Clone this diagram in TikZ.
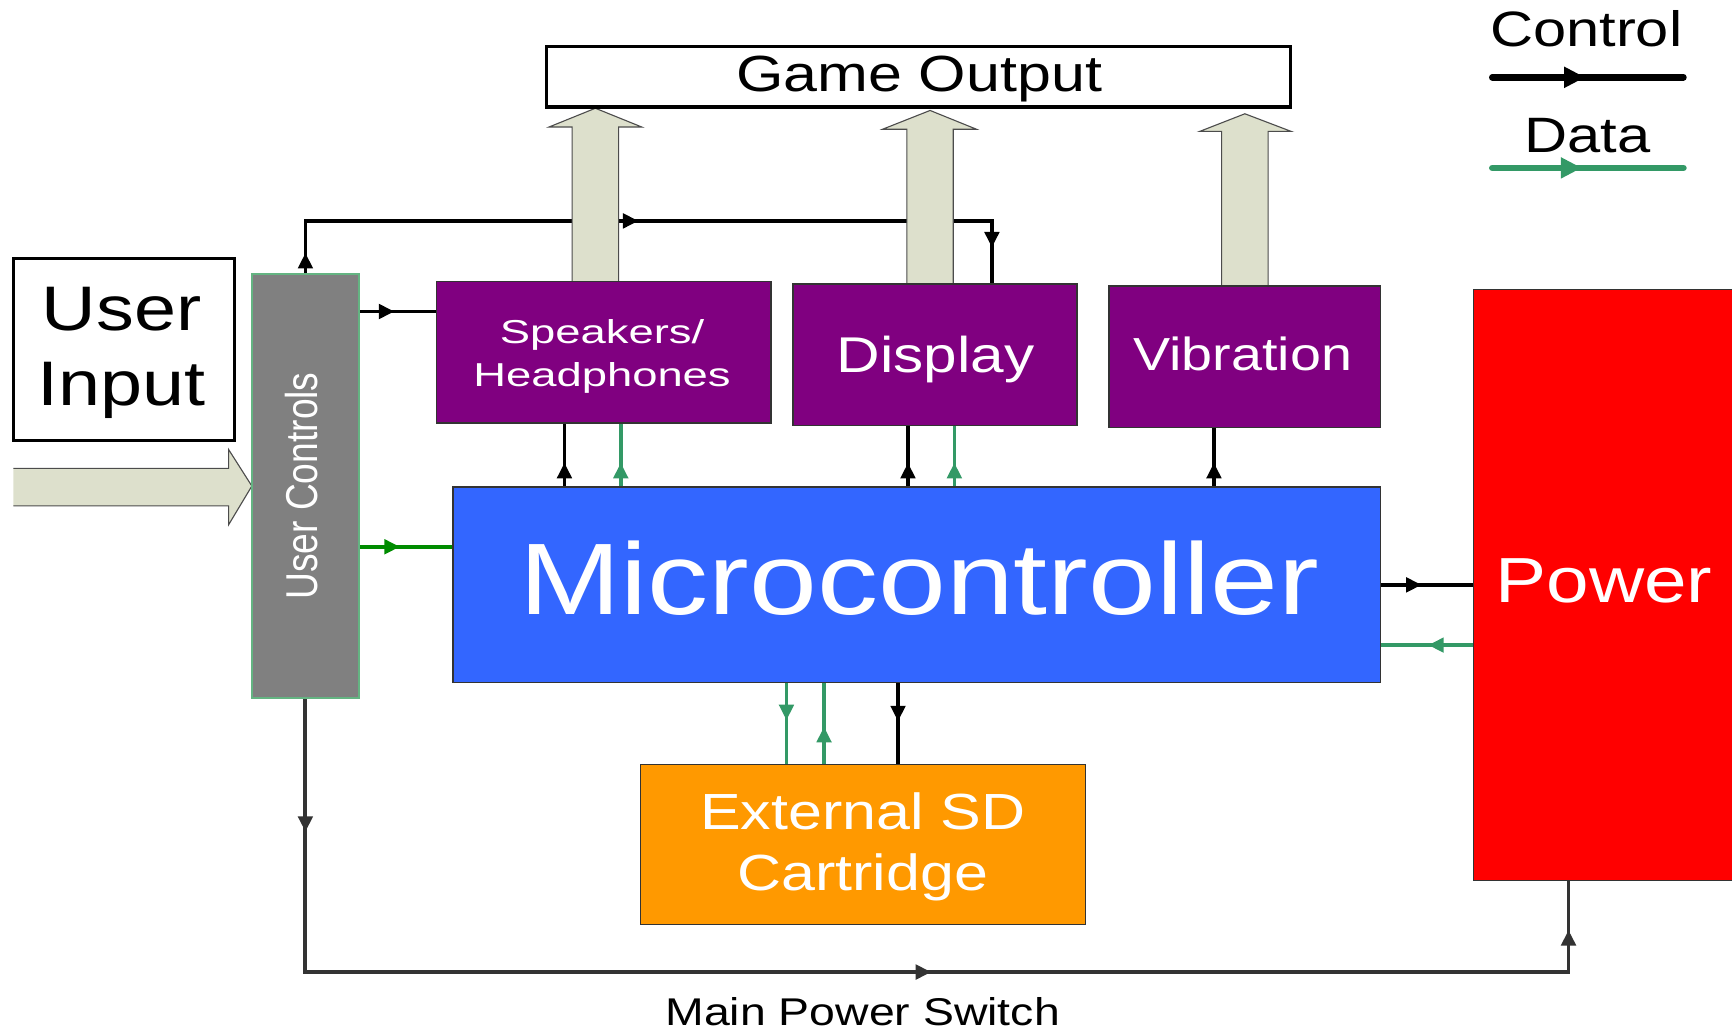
\documentclass[tikz,border=0pt]{standalone}
\usepackage{fontspec}
\setmainfont{Liberation Sans}[FakeStretch=1.2]
\newfontfamily\spkfont{Liberation Sans}[FakeStretch=1.37]
\newfontfamily\ucfont{Liberation Sans}[FakeStretch=0.833]
\usetikzlibrary{arrows.meta,decorations.markings}
\newcommand\fsz[2]{\fontsize{#1}{#2}\selectfont}
\newcommand\tipf{\arrow{Triangle[length=14pt,width=13pt]}}
\newcommand\tipleg{\arrow{Triangle[length=19pt,width=18pt]}}
\definecolor{cpurple}{RGB}{128,0,128}
\definecolor{cblue}{RGB}{51,102,255}
\definecolor{cred}{RGB}{255,0,0}
\definecolor{corange}{RGB}{255,153,0}
\definecolor{cgray}{RGB}{128,128,128}
\definecolor{cdata}{RGB}{51,153,102}
\definecolor{cgreen}{RGB}{0,140,0}
\definecolor{cbeige}{RGB}{221,224,204}
\definecolor{cdark}{RGB}{51,51,51}
\definecolor{ucborder}{RGB}{100,180,130}
\tikzset{
  arr/.style={postaction={decorate},decoration={markings,mark=at position #1 with {\tipf}}},
  legarr/.style={postaction={decorate},decoration={markings,mark=at position #1 with {\tipleg}}},
  arrthree/.style n args={3}{postaction={decorate},decoration={markings,
     mark=at position #1 with {\tipf},mark=at position #2 with {\tipf},mark=at position #3 with {\tipf}}},
  ctrl/.style={line width=3.3pt,draw=black},
  dat/.style={line width=3.3pt,draw=cdata},
  pwrline/.style={line width=3.5pt,draw=cdark},
  legline/.style={line width=6pt,line cap=round},
  colbox/.style={draw=black!80,line width=1.2pt,inner sep=0pt,outer sep=0pt},
  whitebox/.style={draw=black,line width=3pt,fill=white,inner sep=0pt,outer sep=0pt},
  bigarrow/.style={fill=cbeige,draw=black!70,line width=1pt},
  wtext/.style={text=white,anchor=base,inner sep=0pt},
  btext/.style={text=black,anchor=base,inner sep=0pt},
}
\begin{document}
\begin{tikzpicture}[x=1pt,y=-1pt]
\useasboundingbox (0,0) rectangle (1568,934);

% ---- box nodes (empty, named) placed first for anchors; drawn later via fill
\path
  node[minimum width=97pt,minimum height=384pt,inner sep=0pt,outer sep=0pt] (uc) at (276.5,440) {}
  node[minimum width=303pt,minimum height=128pt,inner sep=0pt,outer sep=0pt] (spk) at (546.5,319) {}
  node[minimum width=257pt,minimum height=128pt,inner sep=0pt,outer sep=0pt] (disp) at (846.5,321) {}
  node[minimum width=246pt,minimum height=128pt,inner sep=0pt,outer sep=0pt] (vib) at (1127,323) {}
  node[minimum width=840pt,minimum height=177pt,inner sep=0pt,outer sep=0pt] (mc) at (830,529.5) {}
  node[minimum width=238pt,minimum height=535pt,inner sep=0pt,outer sep=0pt] (pw) at (1453,529.5) {}
  node[minimum width=403pt,minimum height=145pt,inner sep=0pt,outer sep=0pt] (sd) at (781.5,764.5) {}
  node[minimum width=673pt,minimum height=55pt,inner sep=0pt,outer sep=0pt] (go) at (831.5,69.5) {}
  node[minimum width=200pt,minimum height=165pt,inner sep=0pt,outer sep=0pt] (ui) at (112,316.5) {};

% ports
\coordinate (spkin) at ([yshift=37pt]spk.west);
\coordinate (mcin) at ([yshift=34.5pt]mc.west);
\coordinate (pwout) at ([yshift=-54.5pt]pw.west);
\coordinate (spkc) at ([xshift=-35.5pt]spk.south);
\coordinate (spkd) at ([xshift=15.5pt]spk.south);
\coordinate (dispc) at ([xshift=-24.5pt]disp.south);
\coordinate (dispd) at ([xshift=17.5pt]disp.south);
\coordinate (vibc) at ([xshift=-28pt]vib.south);
\coordinate (sdd1) at ([xshift=-69.5pt]sd.north);
\coordinate (sdd2) at ([xshift=-35.5pt]sd.north);
\coordinate (sdc) at ([xshift=31.5pt]sd.north);
\coordinate (dispin) at ([xshift=51.5pt]disp.north);
\coordinate (pwin) at ([xshift=-33pt]pw.south);

% ---- connectors
\draw[ctrl,arrthree={19pt}{349.5pt}{693.5pt}] (uc.north) -- ++(0,-48) -| (dispin);
\draw[ctrl,arr=32pt] (uc.east |- spkin) -- (spkin);
\draw[line width=3.3pt,draw=cgreen,arr=37pt] (uc.east |- mcin) -- (mcin);
\draw[ctrl,arr=22pt] (mc.north -| spkc) -- (spkc);
\draw[dat,arr=22pt] (mc.north -| spkd) -- (spkd);
\draw[ctrl,arr=22pt] (mc.north -| dispc) -- (dispc);
\draw[dat,arr=22pt] (mc.north -| dispd) -- (dispd);
\draw[ctrl,arr=22pt] (mc.north -| vibc) -- (vibc);
\draw[ctrl,arr=37pt] (mc.east) -- (pw.west);
\draw[dat,arr=41pt] (pwout) -- (mc.east |- pwout);
\draw[dat,arr=34pt] (mc.south -| sdd1) -- (sdd1);
\draw[dat,arr=34pt] (sdd2) -- (mc.south -| sdd2);
\draw[ctrl,arr=35pt] (mc.south -| sdc) -- (sdc);
\draw[pwrline,arrthree={121pt}{814.5pt}{1429.5pt}] (uc.south) -- ++(0,248) -| (pwin);

% ---- big output arrows
\filldraw[bigarrow] (518,255) -- (518,115) -- (497,115) -- (539,98) -- (581,115) -- (560,115) -- (560,255);
\filldraw[bigarrow] (821,257) -- (821,117) -- (799,117) -- (842,100) -- (884,117) -- (863,117) -- (863,257);
\filldraw[bigarrow] (1106,259) -- (1106,119) -- (1086,119) -- (1127,103) -- (1169,119) -- (1148,119) -- (1148,259);
% ---- user input arrow
\fill[cbeige] (12,424) -- (207,424) -- (207,407) -- (228,440) -- (207,475) -- (207,458) -- (12,458) -- cycle;
\draw[black!70,line width=1pt] (12,424) -- (207,424) -- (207,407) -- (228,440) -- (207,475) -- (207,458) -- (12,458);

% ---- boxes
\filldraw[whitebox] (go.south west) rectangle (go.north east);
\filldraw[whitebox] (ui.south west) rectangle (ui.north east);
\filldraw[fill=cgray,draw=ucborder,line width=1.2pt] (uc.south west) rectangle (uc.north east);
\filldraw[colbox,fill=cpurple] (spk.south west) rectangle (spk.north east);
\filldraw[colbox,fill=cpurple] (disp.south west) rectangle (disp.north east);
\filldraw[colbox,fill=cpurple] (vib.south west) rectangle (vib.north east);
\filldraw[colbox,fill=cblue] (mc.south west) rectangle (mc.north east);
\filldraw[colbox,fill=cred] (pw.south west) rectangle (pw.north east);
\filldraw[colbox,fill=corange] (sd.south west) rectangle (sd.north east);

% ---- texts
\node[btext,font=\fsz{46}{55}] (gotext) at (832,83) {Game Output};
\node[btext,font=\fsz{57}{68}] (uitext1) at (110,299) {User};
\node[btext,font=\fsz{57}{68}] (uitext2) at (110,367) {Input};
\node[text=white,rotate=90,inner sep=0pt,font=\ucfont\fsz{40.4}{48}] (uctext) at (273,440) {User Controls};
\node[wtext,font=\spkfont\fsz{30}{40}] (spktext1) at (545,311) {Speakers/};
\node[wtext,font=\spkfont\fsz{30}{40}] (spktext2) at (545,350) {Headphones};
\node[wtext,font=\fsz{45.5}{54}] (disptext) at (847,337) {Display};
\node[wtext,font=\fsz{42}{50}] (vibtext) at (1125,335) {Vibration};
\node[wtext,font=\fsz{92}{110}] (mctext) at (832,556) {Microcontroller};
\node[wtext,font=\fsz{57.7}{69}] (pwtext) at (1452,545) {Power};
\node[wtext,font=\fsz{46}{55}] (sdtext1) at (781,751) {External SD};
\node[wtext,font=\fsz{46}{55}] (sdtext2) at (781,806) {Cartridge};
\node[btext,font=\fsz{35}{42}] (mpstext) at (781,928) {Main Power Switch};

% ---- legend
\node[btext,font=\fsz{45}{54}] (legc) at (1436,42.5) {Control};
\node[btext,font=\fsz{45}{54}] (legd) at (1437,138) {Data};
\coordinate (lc1) at (1351,70);
\coordinate (lc2) at (1524,70);
\coordinate (ld1) at (1351,152);
\coordinate (ld2) at (1524,152);
\draw[legline,black,legarr=84pt] (lc1) -- (lc2);
\draw[legline,cdata,legarr=81pt] (ld1) -- (ld2);
\end{tikzpicture}
\end{document}
